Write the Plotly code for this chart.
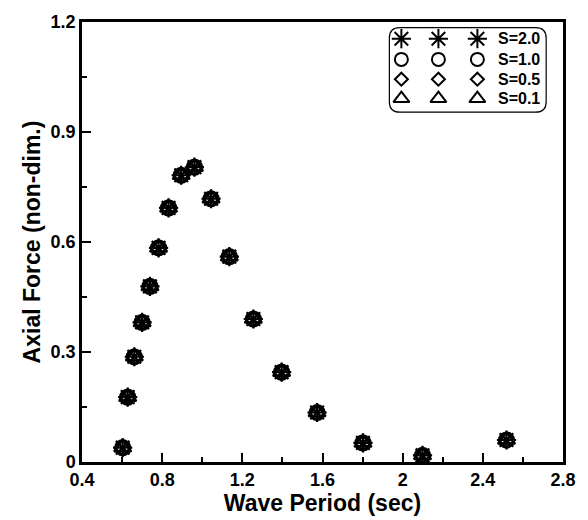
import plotly.graph_objects as go

# ---- data ----
period = [0.603, 0.628, 0.661, 0.700, 0.739, 0.782, 0.832, 0.895, 0.961,
          1.044, 1.135, 1.255, 1.396, 1.573, 1.802, 2.099, 2.518]
force_s20 = [0.039, 0.177, 0.287, 0.381, 0.479, 0.584, 0.693, 0.782, 0.804,
             0.718, 0.560, 0.390, 0.245, 0.135, 0.052, 0.018, 0.060]
force_s10 = list(force_s20)
force_s05 = list(force_s20)
force_s01 = list(force_s20)

series_labels = ["S=2.0", "S=1.0", "S=0.5", "S=0.1"]
series_symbols = ["asterisk-open", "circle-open", "diamond-open", "triangle-up-open"]
series_values = [force_s20, force_s10, force_s05, force_s01]

x_ticks = [0.4, 0.8, 1.2, 1.6, 2.0, 2.4, 2.8]
y_ticks = [0, 0.3, 0.6, 0.9, 1.2]

FONT = "Liberation Sans"

fig = go.Figure()
data_sizes = [16, 15, 12, 15]
for lab, sym, vals, sz in zip(series_labels, series_symbols, series_values, data_sizes):
    fig.add_trace(go.Scatter(
        x=period, y=vals, mode="markers", name=lab, showlegend=False,
        marker=dict(symbol=sym, size=sz, color="black",
                    line=dict(color="black", width=2.2)),
    ))

# ---- hand-drawn legend (overlay axes in paper units) ----
leg_cols = [0.664, 0.741, 0.822]
leg_rows = [0.962, 0.915, 0.870, 0.826]
leg_sizes = [16, 13, 10, 14]
for lab, sym, row, sz in zip(series_labels, series_symbols, leg_rows, leg_sizes):
    fig.add_trace(go.Scatter(
        x=leg_cols, y=[row] * len(leg_cols), mode="markers", showlegend=False,
        xaxis="x2", yaxis="y2", hoverinfo="skip",
        marker=dict(symbol=sym, size=sz, color="black",
                    line=dict(color="black", width=2)),
    ))
    fig.add_annotation(x=0.861, y=row, xref="x2", yref="y2", text="<b>%s</b>" % lab,
                       showarrow=False, xanchor="left", yanchor="middle",
                       font=dict(family=FONT, size=16, color="black"))

# rounded legend box
x0, x1, y0, y1 = 0.639, 0.965, 0.795, 0.987
rx, ry = 0.022, 0.024
path = (f"M {x0+rx},{y0} L {x1-rx},{y0} Q {x1},{y0} {x1},{y0+ry} "
        f"L {x1},{y1-ry} Q {x1},{y1} {x1-rx},{y1} L {x0+rx},{y1} "
        f"Q {x0},{y1} {x0},{y1-ry} L {x0},{y0+ry} Q {x0},{y0} {x0+rx},{y0} Z")
fig.add_shape(type="path", path=path, xref="paper", yref="paper",
              line=dict(color="black", width=1.2))

axis_common = dict(
    showgrid=False, zeroline=False, showline=True, linecolor="black",
    linewidth=2.5, mirror=True, ticks="inside", ticklen=9, tickwidth=2,
    tickcolor="black",
    tickfont=dict(family=FONT, size=18, color="black", weight="bold"),
)

fig.update_layout(
    width=588, height=520,
    margin=dict(l=82, r=24, t=16, b=58),
    paper_bgcolor="white", plot_bgcolor="white",
    font=dict(family=FONT, color="black"),
    xaxis=dict(
        range=[0.4, 2.8], tickmode="array", tickvals=x_ticks,
        ticktext=["0.4", "0.8", "1.2", "1.6", "2", "2.4", "2.8"],
        minor=dict(tickvals=[0.6, 1.0, 1.4, 1.8, 2.2, 2.6], ticks="inside",
                   ticklen=5, tickwidth=2, tickcolor="black"),
        title=dict(text="<b>Wave Period (sec)</b>", standoff=2,
                   font=dict(family=FONT, size=23, color="black")),
        **axis_common,
    ),
    yaxis=dict(
        range=[0, 1.2], tickmode="array", tickvals=y_ticks,
        ticktext=["0", "0.3", "0.6", "0.9", "1.2"],
        minor=dict(tickvals=[0.15, 0.45, 0.75, 1.05], ticks="inside",
                   ticklen=5, tickwidth=2, tickcolor="black"),
        title=dict(text="<b>Axial Force (non-dim.)</b>", standoff=4,
                   font=dict(family=FONT, size=23, color="black")),
        **axis_common,
    ),
    xaxis2=dict(range=[0, 1], overlaying="x", visible=False, fixedrange=True),
    yaxis2=dict(range=[0, 1], overlaying="y", visible=False, fixedrange=True),
)

fig.write_html("out.html")
